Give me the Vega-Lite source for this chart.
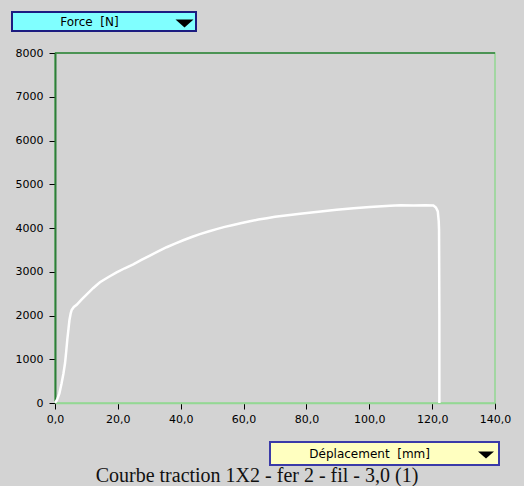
{
  "$schema": "https://vega.github.io/schema/vega-lite/v6.json",
  "width": 440,
  "height": 350,
  "autosize": {"type": "none"},
  "padding": {"left": 55, "top": 53, "right": 29, "bottom": 83},
  "background": "#d3d3d3",
  "config": {
    "view": {"stroke": "#93d893", "strokeWidth": 1.5, "fill": "#d3d3d3"},
    "font": "DejaVu Sans"
  },
  "title": {
    "text": "Courbe traction 1X2 - fer 2 - fil - 3,0 (1)",
    "orient": "bottom",
    "anchor": "middle",
    "font": "Liberation Serif",
    "fontSize": 20,
    "fontWeight": "normal",
    "color": "#111111",
    "offset": 0,
    "dx": -18,
    "dy": 0
  },
  "layer": [
    {
      "data": {
        "values": [
          {"deplacement": 0, "force": 0},
          {"deplacement": 0.7, "force": 80},
          {"deplacement": 1.4, "force": 220},
          {"deplacement": 2.1, "force": 450},
          {"deplacement": 2.7, "force": 680},
          {"deplacement": 3.2, "force": 914},
          {"deplacement": 3.6, "force": 1200},
          {"deplacement": 3.9, "force": 1440},
          {"deplacement": 4.3, "force": 1700},
          {"deplacement": 4.6, "force": 1897},
          {"deplacement": 5.0, "force": 2050},
          {"deplacement": 5.3, "force": 2126},
          {"deplacement": 6.0, "force": 2195},
          {"deplacement": 6.9, "force": 2245},
          {"deplacement": 8.5, "force": 2370},
          {"deplacement": 10.2, "force": 2490},
          {"deplacement": 12.2, "force": 2630},
          {"deplacement": 14.3, "force": 2760},
          {"deplacement": 16.9, "force": 2875},
          {"deplacement": 19.6, "force": 2985},
          {"deplacement": 22.2, "force": 3080},
          {"deplacement": 24.9, "force": 3170},
          {"deplacement": 27.5, "force": 3270},
          {"deplacement": 30.2, "force": 3370},
          {"deplacement": 32.8, "force": 3465},
          {"deplacement": 35.5, "force": 3560},
          {"deplacement": 38.2, "force": 3645},
          {"deplacement": 40.8, "force": 3720},
          {"deplacement": 43.5, "force": 3795},
          {"deplacement": 46.1, "force": 3860},
          {"deplacement": 48.8, "force": 3920},
          {"deplacement": 51.4, "force": 3975},
          {"deplacement": 54.0, "force": 4025},
          {"deplacement": 56.7, "force": 4070},
          {"deplacement": 59.4, "force": 4115},
          {"deplacement": 62.0, "force": 4155},
          {"deplacement": 64.7, "force": 4192},
          {"deplacement": 67.4, "force": 4225},
          {"deplacement": 70.0, "force": 4255},
          {"deplacement": 72.7, "force": 4280},
          {"deplacement": 75.4, "force": 4305},
          {"deplacement": 78.0, "force": 4325},
          {"deplacement": 83.8, "force": 4372},
          {"deplacement": 89.6, "force": 4415},
          {"deplacement": 95.0, "force": 4450},
          {"deplacement": 100.2, "force": 4480},
          {"deplacement": 106.6, "force": 4510},
          {"deplacement": 110.0, "force": 4518},
          {"deplacement": 114.0, "force": 4512},
          {"deplacement": 118.0, "force": 4522},
          {"deplacement": 120.4, "force": 4515},
          {"deplacement": 121.2, "force": 4470},
          {"deplacement": 121.8, "force": 4380},
          {"deplacement": 122.1, "force": 4150},
          {"deplacement": 122.2, "force": 3950},
          {"deplacement": 122.3, "force": 2000},
          {"deplacement": 122.3, "force": 0}
        ]
      },
      "mark": {"type": "line", "strokeWidth": 2.5},
      "encoding": {
        "x": {
          "field": "deplacement",
          "type": "quantitative",
          "scale": {"domain": [0, 140], "nice": false, "zero": false},
          "axis": {
            "title": null,
            "values": [0, 20, 40, 60, 80, 100, 120, 140],
            "labelExpr": "replace(format(datum.value, '.1f'), '.', ',')",
            "grid": false,
            "domainColor": "#93d893",
            "domainWidth": 1.5,
            "tickColor": "#000000",
            "tickSize": 6,
            "labelColor": "#000000",
            "labelFont": "DejaVu Sans",
            "labelFontSize": 11,
            "labelPadding": 4,
            "labelFlush": false
          }
        },
        "y": {
          "field": "force",
          "type": "quantitative",
          "scale": {"domain": [0, 8000], "nice": false},
          "axis": {
            "title": null,
            "values": [0, 1000, 2000, 3000, 4000, 5000, 6000, 7000, 8000],
            "format": "d",
            "grid": false,
            "domainColor": "#2e7d3a",
            "domainWidth": 2,
            "tickColor": "#000000",
            "tickSize": 6,
            "labelColor": "#000000",
            "labelFont": "DejaVu Sans",
            "labelFontSize": 11,
            "labelPadding": 6,
            "labelFlush": false
          }
        },
        "color": {
          "datum": "Force",
          "scale": {"range": ["#ffffff"]},
          "legend": {
            "title": "\u200b\u00a0\u00a0\u00a0\u00a0\u00a0\u00a0\u00a0\u00a0\u00a0\u00a0\u00a0\u00a0Force\u00a0 [N]",
            "orient": "none",
            "legendX": -43,
            "legendY": -41,
            "titleOrient": "left",
            "titlePadding": 56,
            "titleFont": "DejaVu Sans",
            "titleFontSize": 12,
            "titleFontWeight": "normal",
            "titleColor": "#000000",
            "titleBaseline": "middle",
            "symbolType": "M-1,-0.45L1,-0.45L0,0.45Z",
            "symbolSize": 324,
            "symbolFillColor": "#000000",
            "symbolStrokeColor": "#000000",
            "symbolStrokeWidth": 0,
            "symbolOpacity": 1,
            "labelExpr": "''",
            "labelOffset": 0,
            "padding": 2.5,
            "fillColor": "#80ffff",
            "strokeColor": "#1c1c80",
            "encode": {
              "legend": {"update": {"strokeWidth": {"value": 2}}},
              "symbols": {"update": {"fill": {"value": "#000000"}, "stroke": {"value": "#000000"}, "strokeWidth": {"value": 0}, "opacity": {"value": 1}}}
            }
          }
        }
      }
    },
    {
      "data": {"values": [{}]},
      "mark": {"type": "rule", "strokeWidth": 1.5},
      "encoding": {
        "y": {"datum": 8000, "type": "quantitative"},
        "color": {
          "datum": "Deplacement",
          "scale": {"range": ["#2e7d3a"]},
          "legend": {
            "title": "\u200b\u00a0\u00a0\u00a0\u00a0\u00a0\u00a0\u00a0\u00a0\u00a0D\u00e9placement\u00a0 [mm]",
            "orient": "none",
            "legendX": 215,
            "legendY": 389,
            "titleOrient": "left",
            "titlePadding": 48,
            "titleFont": "DejaVu Sans",
            "titleFontSize": 12,
            "titleFontWeight": "normal",
            "titleColor": "#000000",
            "titleBaseline": "middle",
            "symbolType": "M-1,-0.45L1,-0.45L0,0.45Z",
            "symbolSize": 256,
            "symbolFillColor": "#000000",
            "symbolStrokeColor": "#000000",
            "symbolStrokeWidth": 0,
            "symbolOpacity": 1,
            "labelExpr": "''",
            "labelOffset": 0,
            "padding": 5,
            "fillColor": "#ffffc0",
            "strokeColor": "#3a3aa8",
            "encode": {
              "legend": {"update": {"strokeWidth": {"value": 2}}},
              "symbols": {"update": {"fill": {"value": "#000000"}, "stroke": {"value": "#000000"}, "strokeWidth": {"value": 0}, "opacity": {"value": 1}}}
            }
          }
        }
      }
    }
  ],
  "resolve": {"scale": {"color": "independent"}, "legend": {"color": "independent"}}
}
